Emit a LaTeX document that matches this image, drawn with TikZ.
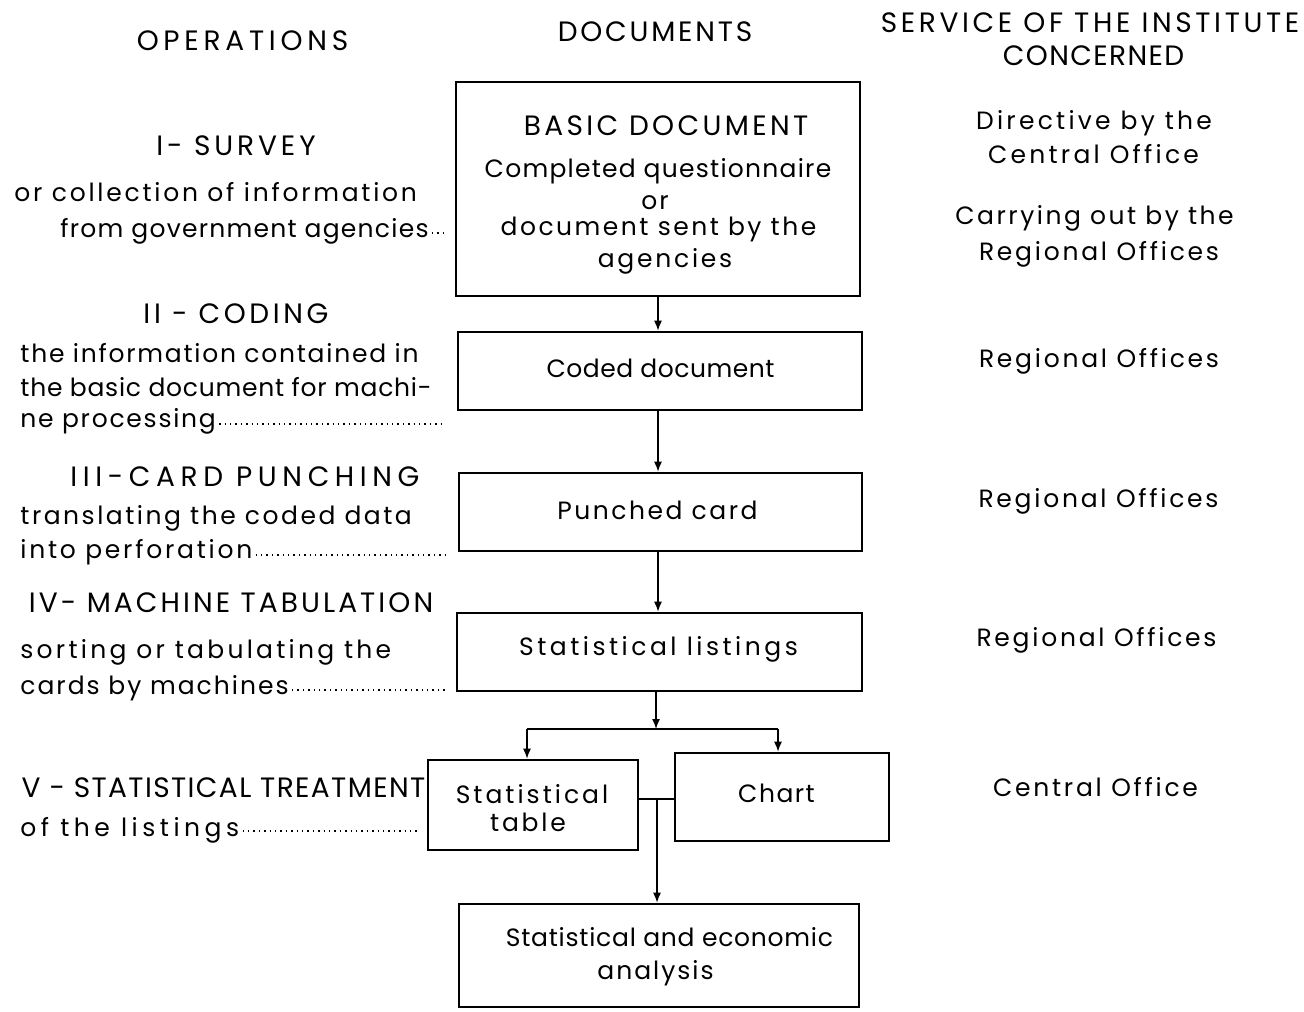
\documentclass[tikz,border=0pt]{standalone}
\usepackage{fontspec}
\setmainfont{Poppins}
\usetikzlibrary{arrows.meta}
\begin{document}
\begin{tikzpicture}[x=0.5pt,y=-0.5pt,
  lc/.style={inner sep=0pt,font=\fontsize{12.5}{14}\selectfont\addfontfeatures{LetterSpace=#1}},
  uc/.style={inner sep=0pt,font=\fontsize{14}{16}\selectfont\addfontfeatures{LetterSpace=#1}},
  lft/.style={anchor=mid west},
  ctr/.style={anchor=mid},
  docbox/.style={draw,line width=1.3pt,inner sep=0pt},
  arr/.style={line width=0.7pt,-{Latex[length=5pt,width=4pt]}},
  link/.style={line width=0.7pt},
  leader/.style={line width=0.6pt,dash pattern=on 0.7pt off 2pt}]
\useasboundingbox (0,0) rectangle (1304,1011);

% column headings
\node[uc=17,ctr] (hop) at (242.5,45) {OPERATIONS};
\node[uc=10,ctr] (hdoc) at (655,36) {DOCUMENTS};
\node[uc=13,ctr] (hsv1) at (1090,27) {SERVICE OF THE INSTITUTE};
\node[uc=5,ctr] (hsv2) at (1093.5,60) {CONCERNED};

% documents column
\node[docbox,minimum width=202pt,minimum height=107pt] (basic) at (658,189) {};
\node[uc=12,ctr] (b1) at (666,130) {BASIC DOCUMENT};
\node[lc=5,ctr] (b2) at (658,172) {Completed questionnaire};
\node[lc=8,ctr] (b3) at (655,204) {or};
\node[lc=10,ctr] (b4) at (658.5,230) {document sent by the};
\node[lc=11,ctr] (b5) at (665,262) {agencies};

\node[docbox,minimum width=202pt,minimum height=39pt] (coded) at (660,371) {};
\node[lc=2,ctr] (ct) at (660.5,372) {Coded document};

\node[docbox,minimum width=201.5pt,minimum height=39pt] (punch) at (660.5,512) {};
\node[lc=10,ctr] (pt) at (657.5,514) {Punched card};

\node[docbox,minimum width=202.5pt,minimum height=39pt] (list) at (659.5,652) {};
\node[lc=14,ctr] (lt) at (658.5,650) {Statistical listings};

\node[docbox,minimum width=105pt,minimum height=45pt] (table) at (533,805) {};
\node[lc=12,ctr] (tt1) at (532,798) {Statistical};
\node[lc=11,ctr] (tt2) at (528,826) {table};

\node[docbox,minimum width=107pt,minimum height=44pt] (chart) at (782,797) {};
\node[lc=6,ctr] (cht) at (776.5,797) {Chart};

\node[docbox,minimum width=200pt,minimum height=51.5pt] (anal) at (659,955.5) {};
\node[lc=3,ctr] (a1) at (669.5,941) {Statistical and economic};
\node[lc=8,ctr] (a2) at (655.5,974) {analysis};

% connectors
\coordinate (j) at (656,729);
\coordinate (jl) at (527,729);
\coordinate (jr) at (778,729);
\coordinate (m) at (657,799);
\draw[arr] (basic.south) -- (basic.south |- coded.north);
\draw[arr] (coded.south -| basic.south) -- (basic.south |- punch.north);
\draw[arr] (punch.south -| basic.south) -- (basic.south |- list.north);
\draw[arr] (list.south -| j) -- (j);
\draw[link] (jl) -- (jr);
\draw[arr] (jl) -- (jl |- table.north);
\draw[arr] (jr) -- (jr |- chart.north);
\draw[link] (table.east |- m) -- (chart.west |- m);
\draw[arr] (m) -- (m |- anal.north);

% operations column
\node[uc=14,ctr] (o1) at (236,150) {I- SURVEY};
\node[lc=11,lft] (o1a) at (14,196) {or collection of information};
\node[lc=5,lft] (o1b) at (60,232) {from government agencies};
\coordinate (e1) at (448,233);
\draw[leader] ([xshift=1.5pt]o1b.east |- e1) -- (e1);

\node[uc=13,ctr] (o2) at (236,318) {II - CODING};
\node[lc=7,lft] (o2a) at (20,357) {the information contained in};
\node[lc=3,lft] (o2b) at (20,391) {the basic document for machi-};
\node[lc=7,lft] (o2c) at (20,422) {ne processing};
\coordinate (e2) at (442,424);
\draw[leader] ([xshift=1.5pt]o2c.east |- e2) -- (e2);

\node[uc=20,ctr] (o3) at (245,481) {III-CARD PUNCHING};
\node[lc=10,lft] (o3a) at (20,519) {translating the coded data};
\node[lc=11,lft] (o3b) at (20,553) {into perforation};
\coordinate (e3) at (446,555);
\draw[leader] ([xshift=1.5pt]o3b.east |- e3) -- (e3);

\node[uc=11,ctr] (o4) at (231,607) {IV- MACHINE TABULATION};
\node[lc=13,lft] (o4a) at (20,653) {sorting or tabulating the};
\node[lc=8,lft] (o4b) at (20,689) {cards by machines};
\coordinate (e4) at (446,690);
\draw[leader] ([xshift=1.5pt]o4b.east |- e4) -- (e4);

\node[uc=5,ctr] (o5) at (223.5,792) {V - STATISTICAL TREATMENT};
\node[lc=18,lft] (o5a) at (20,831) {of the listings};
\coordinate (e5) at (420,831);
\draw[leader] ([xshift=1.5pt]o5a.east |- e5) -- (e5);

% service column
\node[lc=13,ctr] (s1a) at (1094,124) {Directive by the};
\node[lc=13,ctr] (s1b) at (1093.5,158) {Central Office};
\node[lc=10,ctr] (s1c) at (1094.5,219) {Carrying out by the};
\node[lc=11,ctr] (s1d) at (1099,255) {Regional Offices};
\node[lc=11,ctr] (s2) at (1099,362) {Regional Offices};
\node[lc=11,ctr] (s3) at (1098.5,502) {Regional Offices};
\node[lc=11,ctr] (s4) at (1096.5,641) {Regional Offices};
\node[lc=11,ctr] (s5) at (1095.5,791) {Central Office};
\end{tikzpicture}
\end{document}
